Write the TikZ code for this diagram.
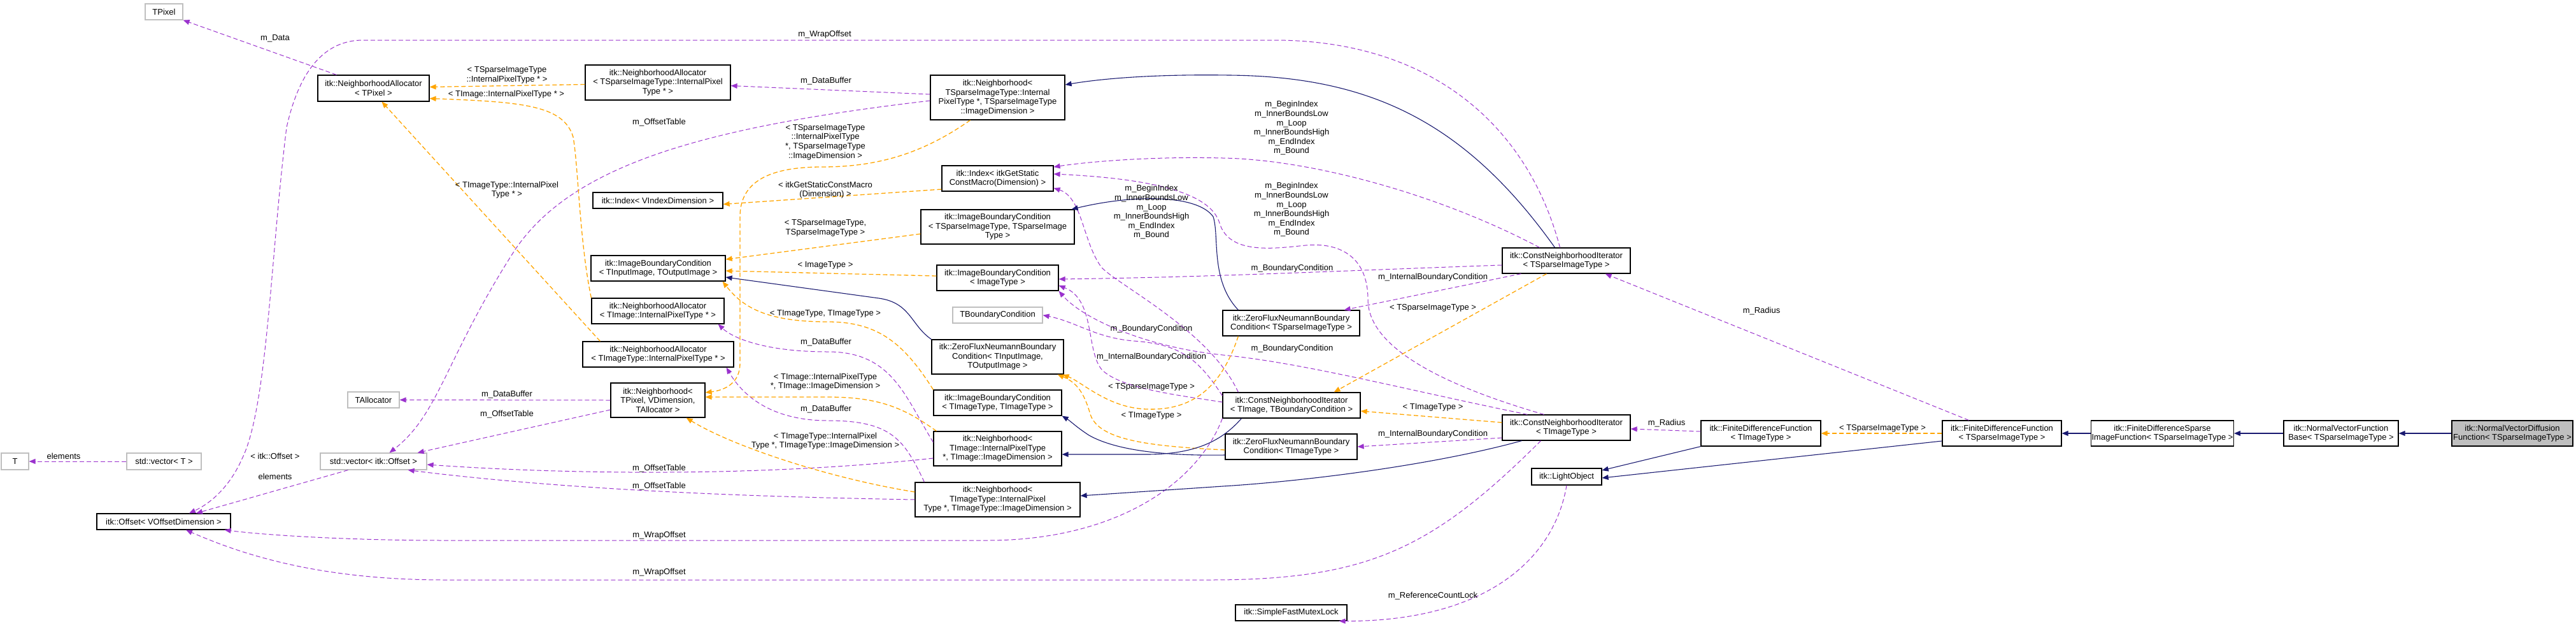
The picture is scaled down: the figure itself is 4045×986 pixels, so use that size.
\documentclass[tikz,border=0pt]{standalone}
\usepackage{fontspec}
\setmainfont{Liberation Sans}
\usetikzlibrary{arrows.meta}
\newcommand\dfont{\fontsize{13}{14.6}\selectfont}
\definecolor{purp}{HTML}{9A32CD}
\definecolor{orng}{HTML}{FFA500}
\definecolor{navyc}{HTML}{191970}
\definecolor{gbord}{HTML}{BFBFBF}
\begin{document}
\begin{tikzpicture}[x=1pt,y=-1pt,
 box/.style={draw=black,line width=1.2pt,fill=white,inner sep=1pt,align=center,font=\dfont},
 gbox/.style={box,draw=gbord},
 use/.style={-{Triangle[length=10pt,width=8pt]},dash pattern=on 7pt off 4pt,draw=purp,line width=1pt},
 tmpl/.style={use,draw=orng,line width=1.3pt},
 inh/.style={-{Triangle[length=10pt,width=8pt]},draw=navyc,line width=1.1pt},
 lbl/.style={inner sep=0pt,align=center,font=\dfont}]
\useasboundingbox (0,0) rectangle (4045,986);
% nodes
\node[gbox,minimum width=59pt,minimum height=25pt] (tpixel) at (257.5,18.5) {TPixel};
\node[box,minimum width=175pt,minimum height=41pt] (naTPixel) at (586.5,138.5) {itk::NeighborhoodAllocator\\< TPixel >};
\node[gbox,minimum width=43pt,minimum height=26pt] (T) at (23.5,724) {T};
\node[gbox,minimum width=117pt,minimum height=26pt] (vecT) at (257.5,724) {std::vector< T >};
\node[gbox,minimum width=167pt,minimum height=26pt] (vecOff) at (586.5,724) {std::vector< itk::Offset >};
\node[gbox,minimum width=81pt,minimum height=25pt] (tAlloc) at (586.5,627.5) {TAllocator};
\node[box,minimum width=210pt,minimum height=25pt] (offset) at (257,818.5) {itk::Offset< VOffsetDimension >};
\node[box,minimum width=228pt,minimum height=55pt] (naSparse) at (1033,129.5) {itk::NeighborhoodAllocator\\< TSparseImageType::InternalPixel\\Type * >};
\node[box,minimum width=204pt,minimum height=25pt] (idxV) at (1033,314.5) {itk::Index< VIndexDimension >};
\node[box,minimum width=211pt,minimum height=40pt] (ibcIO) at (1033.5,421) {itk::ImageBoundaryCondition\\< TInputImage, TOutputImage >};
\node[box,minimum width=208pt,minimum height=40pt] (naTImage) at (1033,488) {itk::NeighborhoodAllocator\\< TImage::InternalPixelType * >};
\node[box,minimum width=237pt,minimum height=40pt] (naTImageType) at (1033.5,556) {itk::NeighborhoodAllocator\\< TImageType::InternalPixelType * >};
\node[box,minimum width=148pt,minimum height=54pt] (nbhPixel) at (1033,628) {itk::Neighborhood<\\ TPixel, VDimension,\\TAllocator >};
\node[box,minimum width=211pt,minimum height=70pt] (nbhSparse) at (1566.5,153) {itk::Neighborhood<\\ TSparseImageType::Internal\\PixelType *, TSparseImageType\\::ImageDimension >};
\node[box,minimum width=175pt,minimum height=40pt] (idxStatic) at (1566.5,280) {itk::Index< itkGetStatic\\ConstMacro(Dimension) >};
\node[box,minimum width=241pt,minimum height=54pt] (ibcSparse) at (1566.5,356) {itk::ImageBoundaryCondition\\< TSparseImageType, TSparseImage\\Type >};
\node[box,minimum width=191pt,minimum height=40pt] (ibcImageType) at (1566.5,436) {itk::ImageBoundaryCondition\\< ImageType >};
\node[gbox,minimum width=141pt,minimum height=25pt] (tBC) at (1566.5,494.5) {TBoundaryCondition};
\node[box,minimum width=207pt,minimum height=54pt] (zfIO) at (1566.5,560) {itk::ZeroFluxNeumannBoundary\\Condition< TInputImage,\\TOutputImage >};
\node[box,minimum width=201pt,minimum height=40pt] (ibcTT) at (1566.5,632) {itk::ImageBoundaryCondition\\< TImageType, TImageType >};
\node[box,minimum width=201pt,minimum height=54pt] (nbhTImage) at (1566.5,704) {itk::Neighborhood<\\ TImage::InternalPixelType\\*, TImage::ImageDimension >};
\node[box,minimum width=259pt,minimum height=54pt] (nbhTImageType) at (1566.5,784) {itk::Neighborhood<\\ TImageType::InternalPixel\\Type *, TImageType::ImageDimension >};
\node[box,minimum width=201pt,minimum height=40pt] (cniSparse) at (2459.5,409) {itk::ConstNeighborhoodIterator\\< TSparseImageType >};
\node[box,minimum width=215pt,minimum height=40pt] (zfSparse) at (2027.5,507) {itk::ZeroFluxNeumannBoundary\\Condition< TSparseImageType >};
\node[box,minimum width=216pt,minimum height=40pt] (cniTB) at (2028,636) {itk::ConstNeighborhoodIterator\\< TImage, TBoundaryCondition >};
\node[box,minimum width=207pt,minimum height=40pt] (zfTImageType) at (2027.5,701) {itk::ZeroFluxNeumannBoundary\\Condition< TImageType >};
\node[box,minimum width=201pt,minimum height=40pt] (cniTImageType) at (2459.5,671) {itk::ConstNeighborhoodIterator\\< TImageType >};
\node[box,minimum width=110pt,minimum height=26pt] (lightObj) at (2460,748) {itk::LightObject};
\node[box,minimum width=175pt,minimum height=25pt] (mutex) at (2027.5,961.5) {itk::SimpleFastMutexLock};
\node[box,minimum width=188pt,minimum height=40pt] (fdfTImageType) at (2765,680) {itk::FiniteDifferenceFunction\\< TImageType >};
\node[box,minimum width=187pt,minimum height=40pt] (fdfSparse) at (3143.5,680) {itk::FiniteDifferenceFunction\\< TSparseImageType >};
\node[box,minimum width=215pt,minimum height=40pt] (fdsif) at (3395.5,680) {itk::FiniteDifferenceSparse\\ImageFunction< TSparseImageType >};
\node[box,minimum width=180pt,minimum height=40pt] (nvfb) at (3676,680) {itk::NormalVectorFunction\\Base< TSparseImageType >};
\node[box,fill=gbord,minimum width=190pt,minimum height=40pt] (nvdf) at (3945,680) {itk::NormalVectorDiffusion\\Function< TSparseImageType >};
% purple usage edges
\draw[use] ([xshift=30pt]naTPixel.north west) -- (tpixel.south east);
\draw[use] ([xshift=-10pt]cniSparse.north) .. controls (2400,200) and (2250,63) .. (2000,63) -- (570,63) .. controls (510,63) and (470,110) .. (450,200) .. controls (425,400) and (420,640) .. (380,720) .. controls (360,765) and (330,790) .. ([xshift=40pt]offset.north);
\draw[use] ([xshift=-40pt]vecOff.south) -- ([xshift=51pt]offset.north);
\draw[use] (vecT.west) -- (T.east);
\draw[use] ([yshift=5pt]nbhSparse.west) -- ([yshift=-5pt]naSparse.east);
\draw[use] ([yshift=-5pt]nbhSparse.west) .. controls (1100,200) and (900,260) .. (810,390) .. controls (700,560) and (690,650) .. ([xshift=25pt]vecOff.north);
\draw[use] (nbhPixel.west) -- (tAlloc.east);
\draw[use] ([yshift=-15pt]nbhPixel.west) -- ([xshift=-15pt]vecOff.north east);
\draw[use] ([yshift=-15pt]nbhTImage.west) .. controls (1200,748) and (900,745) .. ([yshift=-5pt]vecOff.east);
\draw[use] (nbhTImageType.west) .. controls (1200,780) and (900,770) .. ([xshift=-30pt]vecOff.south east);
\draw[use] ([yshift=10pt]nbhTImage.west) .. controls (1420,620) and (1400,552) .. (1300,552) .. controls (1200,552) and (1150,530) .. ([xshift=-10pt]naTImage.south east);
\draw[use] ([xshift=15pt]nbhTImageType.north west) .. controls (1420,690) and (1400,660) .. (1300,660) .. controls (1200,660) and (1160,610) .. ([xshift=-12pt]naTImageType.south east);
\draw[use] (cniTB.south west) .. controls (1880,760) and (1750,848) .. (1550,848) -- (700,848) .. controls (550,848) and (420,840) .. ([xshift=-10pt]offset.south east);
\draw[use] ([xshift=-40pt]cniTImageType.south) .. controls (2250,860) and (2150,910) .. (1900,910) -- (700,910) .. controls (500,910) and (380,870) .. ([xshift=35pt]offset.south);
\draw[use] ([xshift=30pt]cniSparse.south west) -- ([xshift=-25pt]zfSparse.north east);
\draw[use] ([yshift=-7pt]cniSparse.west) .. controls (2100,425) and (1900,435) .. ([yshift=-2pt]ibcImageType.east);
\draw[use] ([yshift=-16pt]cniTImageType.west) -- (zfTImageType.east);
\draw[use] ([xshift=-42pt]cniSparse.north) .. controls (2250,300) and (2050,250) .. (1920,248) .. controls (1800,245) and (1700,255) .. ([yshift=18pt]idxStatic.east);
\draw[use] ([xshift=-35pt]cniTImageType.north) .. controls (2250,600) and (2148,540) .. (2148,470) .. controls (2148,400) and (2100,380) .. (2050,385) .. controls (2000,390) and (1930,400) .. (1915,350) .. controls (1900,300) and (1800,280) .. ([yshift=7pt]idxStatic.east);
\draw[use] ([xshift=25pt]cniTB.north west) .. controls (1900,520) and (1760,450) .. (1730,420) .. controls (1700,380) and (1700,310) .. ([yshift=-15pt]idxStatic.east);
\draw[use] ([yshift=15pt]cniTB.west) .. controls (1880,560) and (1850,540) .. (1780,535) .. controls (1720,530) and (1690,505) .. (tBC.east);
\draw[use] ([yshift=5pt]cniTB.west) .. controls (1850,620) and (1760,610) .. (1730,580) .. controls (1705,550) and (1720,470) .. ([yshift=-12pt]ibcImageType.east);
\draw[use] ([xshift=40pt]cniTImageType.north west) .. controls (2200,610) and (2050,570) .. (1920,557) .. controls (1800,545) and (1700,500) .. (ibcImageType.south east);
\draw[use] (lightObj.south) .. controls (2440,880) and (2330,975) .. ([xshift=-13pt]mutex.south east);
\draw[use] ([xshift=-52pt]fdfSparse.north) -- ([xshift=-40pt]cniSparse.south east);
\draw[use] ([yshift=3pt]fdfTImageType.west) -- ([yshift=-2pt]cniTImageType.east);
% orange template edges
\draw[tmpl] ([yshift=-3pt]naSparse.west) -- ([yshift=2pt]naTPixel.east);
\draw[tmpl] (naTImage.north west) .. controls (910,380) and (908,260) .. (900,215) .. controls (885,165) and (820,160) .. ([yshift=-16pt]naTPixel.east);
\draw[tmpl] ([xshift=28pt]naTImageType.north west) -- ([xshift=13pt]naTPixel.south);
\draw[tmpl] ([xshift=-43pt]nbhSparse.south) .. controls (1450,240) and (1380,262) .. (1290,262) .. controls (1200,262) and (1162,290) .. (1162,340) -- (1162,570) .. controls (1162,600) and (1140,612) .. ([yshift=12pt]nbhPixel.east);
\draw[tmpl] ([yshift=-17pt]idxStatic.west) -- ([yshift=-6pt]idxV.east);
\draw[tmpl] ([yshift=-11pt]ibcSparse.west) -- ([yshift=14pt]ibcIO.east);
\draw[tmpl] ([yshift=3pt]ibcImageType.west) -- ([yshift=-4pt]ibcIO.east);
\draw[tmpl] (ibcTT.north west) .. controls (1420,540) and (1380,505) .. (1300,505) .. controls (1200,505) and (1165,480) .. ([xshift=-5pt]ibcIO.south east);
\draw[tmpl] ([xshift=5pt]nbhTImage.north west) .. controls (1420,640) and (1380,623) .. (1300,623) -- ([yshift=5pt]nbhPixel.east);
\draw[tmpl] ([yshift=12pt]nbhTImageType.west) .. controls (1300,750) and (1150,700) .. ([xshift=-30pt]nbhPixel.south east);
\draw[tmpl] ([xshift=25pt]zfSparse.south west) .. controls (1920,600) and (1880,645) .. (1800,642) .. controls (1740,640) and (1700,600) .. ([xshift=-2pt]zfIO.south east);
\draw[tmpl] ([yshift=-5pt]zfTImageType.west) .. controls (1800,700) and (1725,690) .. (1712,650) .. controls (1702,615) and (1690,600) .. ([xshift=-10pt]zfIO.south east);
\draw[tmpl] ([xshift=-31pt]cniSparse.south) -- ([xshift=-42pt]cniTB.north east);
\draw[tmpl] ([yshift=8pt]cniTImageType.west) -- ([yshift=-9pt]cniTB.east);
\draw[tmpl] (fdfSparse.west) -- (fdfTImageType.east);
% navy inheritance edges
\draw[inh] ([xshift=-18pt]cniSparse.north) .. controls (2300,190) and (2150,120) .. (1930,118) .. controls (1800,116) and (1720,125) .. ([yshift=20pt]nbhSparse.east);
\draw[inh] ([xshift=25pt]zfSparse.north west) .. controls (1900,440) and (1915,370) .. (1905,340) .. controls (1880,305) and (1780,305) .. ([xshift=-5pt]ibcSparse.north east);
\draw[inh] (zfIO.north west) .. controls (1430,510) and (1430,475) .. (1380,468) -- ([yshift=-14pt]ibcIO.east);
\draw[inh] ([yshift=-13pt]zfTImageType.west) .. controls (1800,716) and (1740,700) .. (1710,683) .. controls (1690,670) and (1680,660) .. (ibcTT.south east);
\draw[inh] ([xshift=30pt]cniTB.south west) .. controls (1920,690) and (1880,713) .. (1800,713) -- ([yshift=-9pt]nbhTImage.east);
\draw[inh] ([xshift=-70pt]cniTImageType.south) .. controls (2250,730) and (2050,755) .. (1920,763) -- ([yshift=6pt]nbhTImageType.east);
\draw[inh] (fdfTImageType.south west) -- ([yshift=10pt]lightObj.east);
\draw[inh] ([yshift=-12pt]fdfSparse.west) -- ([yshift=-2pt]lightObj.east);
\draw[inh] (fdsif.west) -- (fdfSparse.east);
\draw[inh] (nvfb.west) -- (fdsif.east);
\draw[inh] (nvdf.west) -- (nvfb.east);
% labels
\node[lbl] (l1) at (432,60) {m\_Data};
\node[lbl] (l2) at (1295,54) {m\_WrapOffset};
\node[lbl] (l3) at (796,118) {< TSparseImageType\\::InternalPixelType * >};
\node[lbl] (l4) at (795,148) {< TImage::InternalPixelType * >};
\node[lbl] (l5) at (796,298) {< TImageType::InternalPixel\\Type * >};
\node[lbl] (l6) at (1297,127) {m\_DataBuffer};
\node[lbl] (l7) at (1035,192) {m\_OffsetTable};
\node[lbl] (l8) at (1296,223) {< TSparseImageType\\::InternalPixelType\\*, TSparseImageType\\::ImageDimension >};
\node[lbl] (l9) at (1296,298) {< itkGetStaticConstMacro\\(Dimension) >};
\node[lbl] (l10) at (1296,358) {< TSparseImageType,\\TSparseImageType >};
\node[lbl] (l11) at (1296,416) {< ImageType >};
\node[lbl] (l12) at (1296,492) {< TImageType, TImageType >};
\node[lbl] (l13) at (1297,537) {m\_DataBuffer};
\node[lbl] (l14) at (1296,599) {< TImage::InternalPixelType\\*, TImage::ImageDimension >};
\node[lbl] (l15) at (1297,642) {m\_DataBuffer};
\node[lbl] (l16) at (1296,692) {< TImageType::InternalPixel\\Type *, TImageType::ImageDimension >};
\node[lbl] (l17) at (796,619) {m\_DataBuffer};
\node[lbl] (l18) at (796,650) {m\_OffsetTable};
\node[lbl] (l19) at (1035,735) {m\_OffsetTable};
\node[lbl] (l20) at (1035,763) {m\_OffsetTable};
\node[lbl] (l21) at (1035,840) {m\_WrapOffset};
\node[lbl] (l22) at (1035,898) {m\_WrapOffset};
\node[lbl] (l23) at (100,716) {elements};
\node[lbl] (l24) at (432,716) {< itk::Offset >};
\node[lbl] (l25) at (432,748) {elements};
\node[lbl] (l26) at (2028,201) {m\_BeginIndex\\m\_InnerBoundsLow\\m\_Loop\\m\_InnerBoundsHigh\\m\_EndIndex\\m\_Bound};
\node[lbl] (l27) at (2028,329) {m\_BeginIndex\\m\_InnerBoundsLow\\m\_Loop\\m\_InnerBoundsHigh\\m\_EndIndex\\m\_Bound};
\node[lbl] (l28) at (1808,333) {m\_BeginIndex\\m\_InnerBoundsLow\\m\_Loop\\m\_InnerBoundsHigh\\m\_EndIndex\\m\_Bound};
\node[lbl] (l29) at (2029,421) {m\_BoundaryCondition};
\node[lbl] (l30) at (1808,516) {m\_BoundaryCondition};
\node[lbl] (l31) at (2029,547) {m\_BoundaryCondition};
\node[lbl] (l32) at (2250,435) {m\_InternalBoundaryCondition};
\node[lbl] (l33) at (1808,560) {m\_InternalBoundaryCondition};
\node[lbl] (l34) at (2250,681) {m\_InternalBoundaryCondition};
\node[lbl] (l35) at (2250,483) {< TSparseImageType >};
\node[lbl] (l36) at (1808,607) {< TSparseImageType >};
\node[lbl] (l37) at (2250,639) {< TImageType >};
\node[lbl] (l38) at (1808,652) {< TImageType >};
\node[lbl] (l39) at (2250,935) {m\_ReferenceCountLock};
\node[lbl] (l40) at (2766,488) {m\_Radius};
\node[lbl] (l41) at (2617,664) {m\_Radius};
\node[lbl] (l42) at (2956,672) {< TSparseImageType >};
\end{tikzpicture}
\end{document}
